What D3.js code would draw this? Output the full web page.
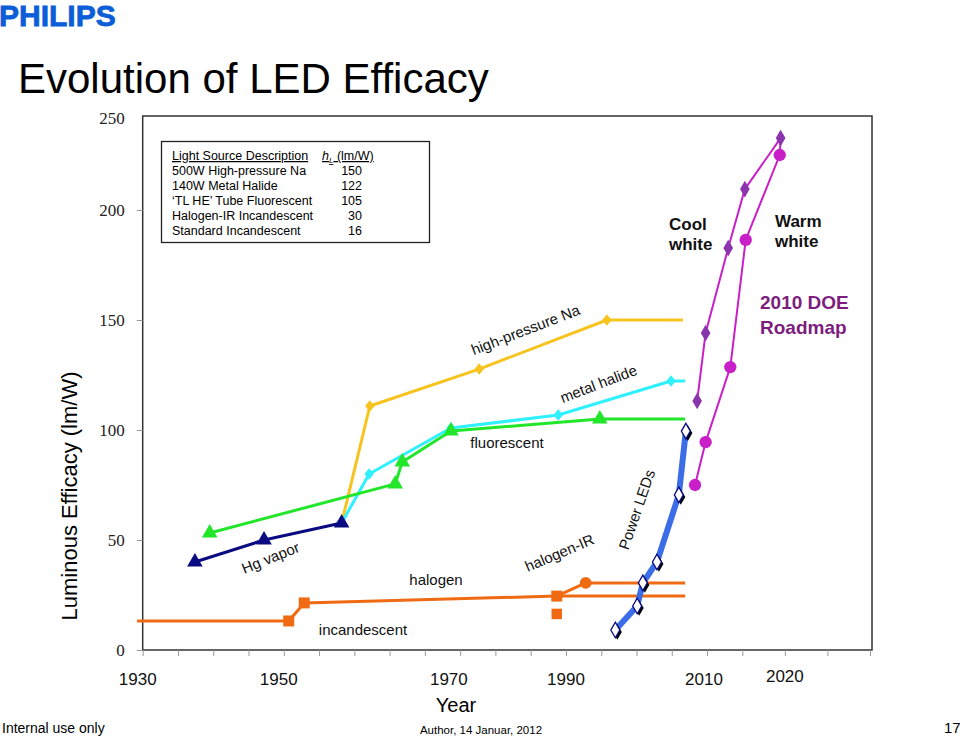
<!DOCTYPE html>
<html><head><meta charset="utf-8">
<script src="https://cdn.jsdelivr.net/npm/d3@7"></script>
<style>
html,body{margin:0;padding:0;background:#fff;}
svg{display:block;font-family:"Liberation Sans",Arial,sans-serif;}
</style></head>
<body>
<svg id="c" width="960" height="736"></svg>
<script>
// ---------- DATA ----------
const xTickYears = d3.range(1930, 2031, 5);
const xLabelYears = [1930, 1950, 1970, 1990, 2010, 2020];
const yTickValues = [0, 50, 100, 150, 200];
const yTopLabel = "250";

const hgYears = [1937.4, 1947.2, 1958.2];
const hgVals  = [40, 50, 57.7];

const fluoYears = [1939.5, 1965.8, 1966.8, 1973.7, 1994.8, 2006.9];
const fluoVals  = [53.2, 75.5, 85.5, 99.5, 105, 105];
const fluoMark  = [1, 1, 1, 1, 1, 0];

const mhYears = [1958.2, 1962.1, 1973.7, 1988.9, 2004.9, 2006.9];
const mhVals  = [57.7, 80, 100.9, 106.8, 122.3, 122.3];
const mhMark  = [0, 1, 1, 1, 1, 0];

const hpsYears = [1958.2, 1962.2, 1977.7, 1995.8, 2006.6];
const hpsVals  = [57.7, 110.9, 127.7, 150, 150];
const hpsMark  = [0, 1, 1, 1, 0];

const incYears = [1929.2, 1950.7, 1952.9, 1988.7, 2006.9];
const incVals  = [13.2, 13.2, 21.4, 24.5, 24.5];
const incMark  = [0, 1, 1, 1, 0];

const halIRYears = [1988.7, 1992.8, 2006.9];
const halIRVals  = [24.5, 30.5, 30.5];
const halIRMark  = [0, 1, 0];

const halSoloYears = [1988.7];
const halSoloVals  = [16.4];

const ledYears = [1997.0, 2000.1, 2000.9, 2002.9, 2006.0, 2007.0];
const ledVals  = [9.1, 20, 30.5, 40, 70.5, 99.5];

const coolYears = [2008.6, 2009.8, 2013.0, 2015.3, 2019.5];
const coolVals  = [113.2, 144.1, 182.7, 209.5, 232.7];
const warmYears = [2008.3, 2009.8, 2013.3, 2015.4, 2019.4];
const warmVals  = [75, 94.5, 128.6, 186.4, 225];

const tableSources = ["500W High-pressure Na", "140W Metal Halide", "\u2018TL HE\u2019 Tube Fluorescent", "Halogen-IR Incandescent", "Standard Incandescent"];
const tableEfficacy = [150, 122, 105, 30, 16];

// ---------- CHART ----------
const svg = d3.select("#c");
const L = 142.7, R = 872, T = 116, B = 650;
const x = d3.scaleLinear().domain([1930, 2015, 2030]).range([L, 742.3, 870]);
const y = d3.scaleLinear().domain([0, 200]).range([B, 210]);
const zip = (xs, vs) => xs.map((d, i) => [d, vs[i]]);
const line = d3.line().x(d => x(d[0])).y(d => y(d[1]));

// Logo + title
svg.append("text").attr("x", -1).attr("y", 26).attr("font-size", 30).attr("font-weight", "900")
  .attr("fill", "#0b5ed7").attr("stroke", "#0b5ed7").attr("stroke-width", 0.8).text("PHILIPS");
svg.append("text").attr("x", 18).attr("y", 93).attr("font-size", 42).attr("fill", "#000")
  .text("Evolution of LED Efficacy");

// Frame
svg.append("rect").attr("x", L).attr("y", T).attr("width", R - L).attr("height", B - T)
  .attr("fill", "none").attr("stroke", "#333").attr("stroke-width", 1.5);

// X ticks
const xAxis = svg.append("g").attr("transform", `translate(0,${B})`)
  .call(d3.axisBottom(x).tickValues(xTickYears).tickSize(6).tickFormat(""));
xAxis.select(".domain").remove();
xAxis.selectAll("line").attr("stroke", "#999");
const labelNudge = {1930: -5, 1950: -5, 1970: 24, 1990: 0, 2010: -3, 2020: 0};
const labelRise = {2020: -3};
svg.append("g").selectAll("text").data(xLabelYears).join("text")
  .attr("x", d => x(d) + (labelNudge[d] || 0)).attr("y", d => 685 + (labelRise[d] || 0))
  .attr("text-anchor", "middle").attr("font-size", 17).attr("fill", "#111").text(d => d);
svg.append("text").attr("x", 456).attr("y", 712).attr("text-anchor", "middle")
  .attr("font-size", 20).text("Year");

// Y ticks
const yAxis = svg.append("g").attr("transform", `translate(${L},0)`)
  .call(d3.axisLeft(y).tickValues(yTickValues).tickSize(6).tickPadding(12));
yAxis.select(".domain").remove();
yAxis.selectAll("line").attr("stroke", "#999");
yAxis.selectAll("text").attr("font-family", "'Liberation Serif','Times New Roman',serif")
  .attr("font-size", 17).attr("fill", "#222");
svg.append("text").attr("x", L - 18).attr("y", T + 8).attr("text-anchor", "end")
  .attr("font-family", "'Liberation Serif','Times New Roman',serif").attr("font-size", 17)
  .attr("fill", "#222").text(yTopLabel);
svg.append("text").attr("transform", "translate(77,496) rotate(-90)").attr("text-anchor", "middle")
  .attr("font-size", 22).text("Luminous Efficacy (lm/W)");

// helpers
function drawLine(pts, color, w) {
  svg.append("path").datum(pts).attr("d", line).attr("fill", "none")
    .attr("stroke", color).attr("stroke-width", w).attr("stroke-linejoin", "round");
}
function drawMarks(pts, flags, type, size, color) {
  const sel = pts.filter((d, i) => !flags || flags[i]);
  svg.append("g").selectAll("path").data(sel).join("path")
    .attr("transform", d => `translate(${x(d[0])},${y(d[1])})`)
    .attr("d", d3.symbol().type(type).size(size)).attr("fill", color);
}
const diamondNarrow = { draw(ctx, size) { const r = Math.sqrt(size) / 1.6; ctx.moveTo(0, -r * 1.1); ctx.lineTo(r * 0.9, 0); ctx.lineTo(0, r * 1.1); ctx.lineTo(-r * 0.9, 0); ctx.closePath(); } };

// Incandescent / halogen
const orange = "#ef6a12";
const incPts = zip(incYears, incVals);
const halPts = zip(halIRYears, halIRVals);
drawLine(incPts, orange, 3);
drawLine(halPts, orange, 3);
drawMarks(incPts, incMark, d3.symbolSquare, 120, orange);
drawMarks(halPts, halIRMark, d3.symbolCircle, 110, orange);
drawMarks(zip(halSoloYears, halSoloVals), null, d3.symbolSquare, 110, orange);

// HPS, metal halide, fluorescent, Hg
const yellow = "#f7c31e", cyan = "#2ff0ff", green = "#22e62a", navy = "#0a0a82";
const hpsPts = zip(hpsYears, hpsVals), mhPts = zip(mhYears, mhVals), fluoPts = zip(fluoYears, fluoVals), hgPts = zip(hgYears, hgVals);
drawLine(hpsPts, yellow, 3);
drawLine(mhPts, cyan, 3);
drawLine(fluoPts, green, 3);
drawLine(hgPts, navy, 3);
drawMarks(hpsPts, hpsMark, diamondNarrow, 70, yellow);
drawMarks(mhPts, mhMark, diamondNarrow, 70, cyan);
drawMarks(fluoPts, fluoMark, d3.symbolTriangle, 105, green);
drawMarks(hgPts, null, d3.symbolTriangle, 105, navy);

// LEDs
const ledPts = zip(ledYears, ledVals);
svg.append("path").datum(ledPts).attr("d", line).attr("fill", "none")
  .attr("stroke", "#3a6de6").attr("stroke-width", 6).attr("stroke-linecap", "round").attr("stroke-linejoin", "round");
const ledG = svg.append("g").selectAll("g").data(ledPts).join("g")
  .attr("transform", d => `translate(${x(d[0])},${y(d[1])})`);
ledG.append("path").attr("transform", "translate(2,2)").attr("d", d3.symbol().type(d3.symbolDiamond).size(70)).attr("fill", "#000");
ledG.append("path").attr("d", d3.symbol().type(d3.symbolDiamond).size(70)).attr("fill", "#fff")
  .attr("stroke", "#0a0a82").attr("stroke-width", 1.3);

// DOE roadmap
const magenta = "#c81fc8", purple = "#8a34ad";
const coolPts = zip(coolYears, coolVals), warmPts = zip(warmYears, warmVals);
drawLine(coolPts.concat(warmPts.slice().reverse()), magenta, 2);
drawMarks(coolPts, null, d3.symbolDiamond, 80, purple);
drawMarks(warmPts, null, d3.symbolCircle, 120, magenta);

// Series labels
const lab = (t, cx, cy, ang, opts = {}) => svg.append("text")
  .attr("transform", `translate(${cx},${cy}) rotate(${ang})`).attr("text-anchor", "middle")
  .attr("dominant-baseline", "middle").attr("font-size", opts.size || 15)
  .attr("font-weight", opts.bold ? "bold" : "normal").attr("fill", opts.color || "#111").text(t);
lab("Hg vapor", 271, 559, -22);
lab("halogen", 436, 581, 0);
lab("incandescent", 363, 631, 0);
lab("fluorescent", 507, 444, 0);
lab("high-pressure Na", 526, 331, -21);
lab("metal halide", 599, 385, -21);
lab("halogen-IR", 560, 554, -23);
lab("Power LEDs", 638, 510, -71);
svg.append("text").attr("font-size", 17).attr("font-weight", "bold").attr("fill", "#111")
  .selectAll("tspan").data(["Cool", "white"]).join("tspan").attr("x", 669).attr("y", (d, i) => 230 + i * 20).text(d => d);
svg.append("text").attr("font-size", 17).attr("font-weight", "bold").attr("fill", "#111")
  .selectAll("tspan").data(["Warm", "white"]).join("tspan").attr("x", 775).attr("y", (d, i) => 227 + i * 20).text(d => d);
svg.append("text").attr("font-size", 19).attr("font-weight", "bold").attr("fill", "#7d1d7d")
  .selectAll("tspan").data(["2010 DOE", "Roadmap"]).join("tspan").attr("x", 760).attr("y", (d, i) => 309 + i * 25).text(d => d);

// Table
const tb = svg.append("g");
tb.append("rect").attr("x", 161.5).attr("y", 141.5).attr("width", 268).attr("height", 101)
  .attr("fill", "#fff").attr("stroke", "#222").attr("stroke-width", 1.3);
const th = tb.append("text").attr("font-size", 12.5).attr("y", 160);
th.append("tspan").attr("x", 172).attr("text-decoration", "underline").text("Light Source Description");
const th2 = tb.append("text").attr("font-size", 12.5).attr("y", 160).attr("x", 322).attr("text-decoration", "underline");
th2.append("tspan").attr("font-style", "italic").text("h");
th2.append("tspan").attr("font-size", 8).attr("dy", 3).attr("font-style", "italic").text("L");
th2.append("tspan").attr("dy", -3).text(" (lm/W)");
tb.selectAll("text.src").data(tableSources).join("text").attr("class", "src")
  .attr("x", 172).attr("y", (d, i) => 175 + i * 15).attr("font-size", 12.5).text(d => d);
tb.selectAll("text.val").data(tableEfficacy).join("text").attr("class", "val")
  .attr("x", 362).attr("y", (d, i) => 175 + i * 15).attr("text-anchor", "end").attr("font-size", 12.5).text(d => d);

// Footer
svg.append("text").attr("x", 2).attr("y", 733).attr("font-size", 14).text("Internal use only");
svg.append("text").attr("x", 481).attr("y", 734).attr("text-anchor", "middle").attr("font-size", 11.5).text("Author, 14 Januar, 2012");
svg.append("text").attr("x", 944).attr("y", 733).attr("font-size", 15).text("17");
</script>
</body></html>
